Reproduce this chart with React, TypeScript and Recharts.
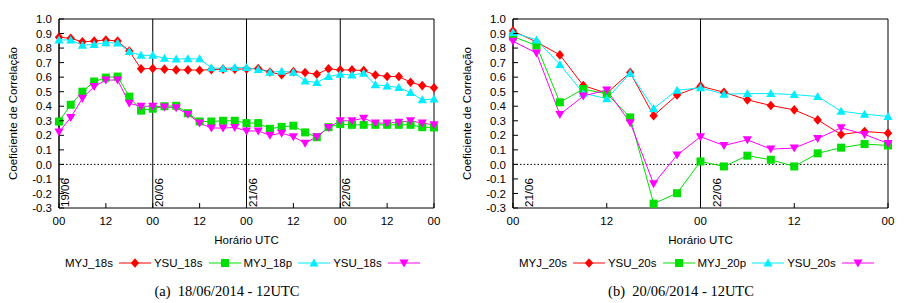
import React from 'react';
import { LineChart, Line, XAxis, YAxis, ReferenceLine, ReferenceArea } from 'recharts';

// panel (a): 18/06/2014 - 12UTC, one point every 3 h over 4 days
const hoursA = [0, 3, 6, 9, 12, 15, 18, 21, 24, 27, 30, 33, 36, 39, 42, 45, 48, 51, 54, 57, 60, 63, 66, 69, 72, 75, 78, 81, 84, 87, 90, 93, 96];
const myj18s = [0.875, 0.867, 0.843, 0.848, 0.856, 0.848, 0.78, 0.657, 0.66, 0.655, 0.65, 0.65, 0.648, 0.652, 0.655, 0.655, 0.656, 0.66, 0.635, 0.617, 0.638, 0.632, 0.62, 0.657, 0.65, 0.65, 0.645, 0.615, 0.605, 0.604, 0.565, 0.542, 0.527];
const ysu18s = [0.295, 0.41, 0.5, 0.57, 0.597, 0.604, 0.466, 0.37, 0.383, 0.4, 0.403, 0.352, 0.295, 0.295, 0.3, 0.3, 0.284, 0.284, 0.245, 0.258, 0.266, 0.22, 0.187, 0.256, 0.277, 0.272, 0.272, 0.272, 0.272, 0.272, 0.272, 0.256, 0.254];
const myj18p = [0.856, 0.856, 0.82, 0.825, 0.837, 0.835, 0.776, 0.75, 0.75, 0.73, 0.725, 0.726, 0.726, 0.664, 0.66, 0.666, 0.666, 0.652, 0.634, 0.64, 0.634, 0.574, 0.563, 0.604, 0.62, 0.615, 0.627, 0.547, 0.54, 0.528, 0.494, 0.444, 0.45];
const ysu18p = [0.222, 0.322, 0.455, 0.535, 0.58, 0.58, 0.42, 0.4, 0.4, 0.395, 0.39, 0.345, 0.284, 0.25, 0.25, 0.254, 0.23, 0.23, 0.2, 0.215, 0.19, 0.146, 0.19, 0.254, 0.3, 0.3, 0.318, 0.284, 0.284, 0.29, 0.3, 0.284, 0.272];
const namesA = ['MYJ_18s', 'YSU_18s', 'MYJ_18p', 'YSU_18s'];
const xTicksA = [0, 12, 24, 36, 48, 60, 72, 84, 96];
const dayHoursA = [0, 24, 48, 72];
const dayLabelsA = ['19/06', '20/06', '21/06', '22/06'];

// panel (b): 20/06/2014 - 12UTC, one point every 3 h over 2 days
const hoursB = [0, 3, 6, 9, 12, 15, 18, 21, 24, 27, 30, 33, 36, 39, 42, 45, 48];
const myj20s = [0.918, 0.842, 0.753, 0.542, 0.49, 0.632, 0.335, 0.478, 0.538, 0.496, 0.444, 0.405, 0.375, 0.306, 0.206, 0.226, 0.215];
const ysu20s = [0.879, 0.818, 0.427, 0.518, 0.485, 0.323, -0.27, -0.198, 0.02, -0.014, 0.06, 0.032, -0.014, 0.076, 0.115, 0.14, 0.13];
const myj20p = [0.907, 0.856, 0.687, 0.49, 0.452, 0.627, 0.385, 0.51, 0.527, 0.483, 0.487, 0.487, 0.48, 0.467, 0.366, 0.345, 0.33];
const ysu20p = [0.847, 0.766, 0.343, 0.47, 0.512, 0.287, -0.134, 0.064, 0.19, 0.13, 0.169, 0.105, 0.112, 0.178, 0.252, 0.206, 0.144];
const namesB = ['MYJ_20s', 'YSU_20s', 'MYJ_20p', 'YSU_20s'];
const xTicksB = [0, 12, 24, 36, 48];
const dayHoursB = [0, 24];
const dayLabelsB = ['21/06', '22/06'];

const yTicks = [-0.3, -0.2, -0.1, 0, 0.1, 0.2, 0.3, 0.4, 0.5, 0.6, 0.7, 0.8, 0.9, 1.0];

const colors = ['#ff0000', '#00e000', '#00eeff', '#ff00ff'];
const shapes = ['diamond', 'square', 'up', 'down'];
const SANS = '"Liberation Sans", Arial, sans-serif';
const FS = 11.5;

const Marker = ({ cx, cy, shape, color }: any) => {
  if (cx == null || cy == null) return null;
  if (shape === 'diamond')
    return <polygon points={`${cx},${cy - 4.8} ${cx + 4.2},${cy} ${cx},${cy + 4.8} ${cx - 4.2},${cy}`} fill={color} />;
  if (shape === 'square')
    return <rect x={cx - 4} y={cy - 4} width={8} height={8} fill={color} />;
  if (shape === 'up')
    return <polygon points={`${cx},${cy - 4.5} ${cx + 4.6},${cy + 3.5} ${cx - 4.6},${cy + 3.5}`} fill={color} />;
  return <polygon points={`${cx},${cy + 4.5} ${cx + 4.6},${cy - 3.5} ${cx - 4.6},${cy - 3.5}`} fill={color} />;
};

const YTick = ({ x, y, payload }: any) => (
  <g>
    <line x1={x + 7} x2={x + 12} y1={y} y2={y} stroke="#000" />
    <text x={x} y={y} dy="0.36em" textAnchor="end" fontSize={FS} fontFamily={SANS} fill="#000">
      {Number(payload.value).toFixed(1)}
    </text>
  </g>
);

const XTick = ({ x, y, payload }: any) => (
  <g>
    <line x1={x} x2={x} y1={y - 9} y2={y - 14} stroke="#000" />
    <text x={x} y={y} dy="0.71em" textAnchor="middle" fontSize={FS} fontFamily={SANS} fill="#000">
      {payload.value % 24 === 0 ? '00' : '12'}
    </text>
  </g>
);

const TopTick = ({ x, y }: any) => <line x1={x} x2={x} y1={y} y2={y + 5} stroke="#000" />;

const DayLabel = ({ viewBox, text, dx }: any) => {
  const x = viewBox.x + dx;
  const y = viewBox.y + viewBox.height - 1;
  return (
    <text x={x} y={y} dy="0.36em" transform={`rotate(-90 ${x} ${y})`} fontSize={FS} fontFamily={SANS} fill="#000">
      {text}
    </text>
  );
};

const LegendRow = ({ names }: { names: string[] }) => (
  <div style={{ position: 'absolute', left: 65, top: 255, height: 16, display: 'flex', alignItems: 'center', fontFamily: SANS, fontSize: FS, color: '#000', whiteSpace: 'nowrap' }}>
    {names.map((n, i) => (
      <React.Fragment key={i}>
        <span>{n}</span>
        <svg width={32} height={16} style={{ marginLeft: 6, marginRight: 3 }}>
          <line x1={0} x2={32} y1={8} y2={8} stroke={colors[i]} strokeWidth={1} />
          <Marker cx={16} cy={8} shape={shapes[i]} color={colors[i]} />
        </svg>
      </React.Fragment>
    ))}
  </div>
);

interface PanelProps {
  left: number;
  hours: number[];
  series: number[][];
  names: string[];
  xTicks: number[];
  dayHours: number[];
  dayLabels: string[];
  labelDx: number;
  caption: string;
}

const Panel = ({ left, hours, series, names, xTicks, dayHours, dayLabels, labelDx, caption }: PanelProps) => {
  const data = hours.map((h, i) => ({ h, s0: series[0][i], s1: series[1][i], s2: series[2][i], s3: series[3][i] }));
  const maxH = hours[hours.length - 1];
  return (
    <div style={{ position: 'absolute', left, top: 0, width: 454, height: 303 }}>
      <LineChart width={454} height={303} data={data} margin={{ top: 19, right: 20, bottom: 55, left: 9 }}>
        <XAxis
          dataKey="h"
          type="number"
          domain={[0, maxH]}
          ticks={xTicks}
          interval={0}
          height={40}
          axisLine={false}
          tickLine={false}
          tickSize={0}
          tickMargin={9}
          tick={<XTick />}
          label={{ value: 'Horário UTC', position: 'insideBottom', offset: 4, fill: '#000', fontSize: FS, fontFamily: SANS }}
        />
        <XAxis
          xAxisId="top"
          orientation="top"
          type="number"
          domain={[0, maxH]}
          ticks={xTicks}
          interval={0}
          height={0}
          axisLine={false}
          tickLine={false}
          tickSize={0}
          tickMargin={0}
          tick={<TopTick />}
        />
        <YAxis
          type="number"
          domain={[-0.3, 1.0]}
          ticks={yTicks}
          interval={0}
          width={50}
          axisLine={false}
          tickLine={false}
          tickSize={0}
          tickMargin={7}
          tick={<YTick />}
          label={{ value: 'Coeficiente de Correlação', angle: -90, position: 'insideLeft', offset: 4, fill: '#000', fontSize: FS, fontFamily: SANS, style: { textAnchor: 'middle' } }}
        />
        <ReferenceArea x1={0} x2={maxH} y1={-0.3} y2={1.0} fill="none" stroke="#000" strokeWidth={1} />
        <ReferenceLine y={0} stroke="#000" strokeDasharray="1.5 2" />
        {dayHours.map((d, i) => (
          <ReferenceLine
            key={d}
            x={d}
            stroke="#000"
            label={(p: any) => <DayLabel {...p} text={dayLabels[i]} dx={labelDx} />}
          />
        ))}
        {series.map((_, i) => (
          <Line
            key={i}
            dataKey={`s${i}`}
            name={names[i]}
            stroke={colors[i]}
            strokeWidth={1}
            isAnimationActive={false}
            dot={(p: any) => <Marker key={`m${i}-${p.index}`} cx={p.cx} cy={p.cy} shape={shapes[i]} color={colors[i]} />}
            activeDot={false}
          />
        ))}
      </LineChart>
      <LegendRow names={names} />
      <div style={{ position: 'absolute', left: 0, width: 454, top: 283, textAlign: 'center', fontFamily: '"Liberation Serif", "Times New Roman", serif', fontSize: 14.5, color: '#000', whiteSpace: 'pre' }}>
        {caption}
      </div>
    </div>
  );
};

export default function App() {
  return (
    <div style={{ position: 'absolute', left: 0, top: 0, width: 908, height: 303, background: '#fff' }}>
      <Panel
        left={0}
        hours={hoursA}
        series={[myj18s, ysu18s, myj18p, ysu18p]}
        names={namesA}
        xTicks={xTicksA}
        dayHours={dayHoursA}
        dayLabels={dayLabelsA}
        labelDx={6}
        caption="(a)  18/06/2014 - 12UTC"
      />
      <Panel
        left={454}
        hours={hoursB}
        series={[myj20s, ysu20s, myj20p, ysu20p]}
        names={namesB}
        xTicks={xTicksB}
        dayHours={dayHoursB}
        dayLabels={dayLabelsB}
        labelDx={16}
        caption="(b)  20/06/2014 - 12UTC"
      />
    </div>
  );
}
